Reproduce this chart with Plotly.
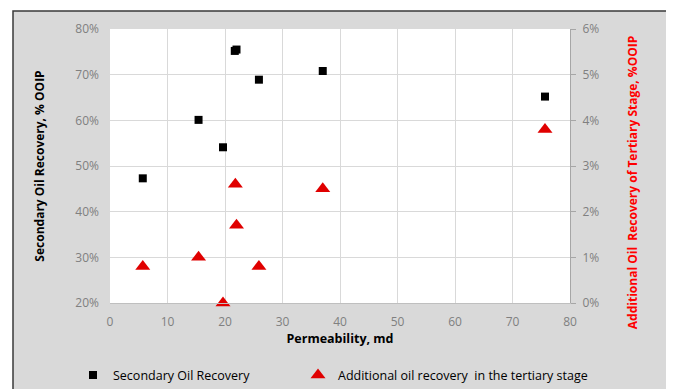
import plotly.graph_objects as go

perm_secondary = [5.7, 15.4, 19.65, 21.7, 22.0, 25.9, 37.0, 75.65]
secondary_recovery = [0.473, 0.601, 0.541, 0.752, 0.755, 0.689, 0.708, 0.652]

perm_tertiary = [5.7, 15.4, 19.65, 21.8, 22.0, 25.9, 37.0, 75.65]
tertiary_recovery = [0.008, 0.010, 0.000, 0.026, 0.017, 0.008, 0.025, 0.038]

FONT = "Open Sans"
TICK = "#808080"

fig = go.Figure()
fig.add_trace(go.Scatter(
    x=perm_secondary, y=secondary_recovery, mode="markers",
    name="Secondary Oil Recovery", legend="legend",
    marker=dict(symbol="square", size=8, color="black"),
    yaxis="y", cliponaxis=False))
fig.add_trace(go.Scatter(
    x=perm_tertiary, y=tertiary_recovery, mode="markers",
    name="Additional oil recovery  in the tertiary stage", legend="legend2",
    marker=dict(symbol="triangle-up", size=13, color="#e00000"),
    yaxis="y2", cliponaxis=False))

# the page body adds an 8px margin, so the figure is sized/positioned for it
W, H = 666, 381
L, R, T = 102, 104, 21
B = 86.3
pw, ph = W - L - R, H - T - B
bottom = H - B

# outer grey chart frame
fig.add_shape(type="rect", xref="paper", yref="paper", layer="below",
              x0=(5 - L) / pw, x1=(663 - L) / pw,
              y0=(bottom - 400) / ph, y1=1 + (T - 3) / ph,
              fillcolor="#d9d9d9", line=dict(color="#3a3a3a", width=1.5))
# white plot area
fig.add_shape(type="rect", xref="paper", yref="paper", layer="below",
              x0=0, x1=1, y0=0, y1=1,
              fillcolor="white", line=dict(width=0))

# right axis title (sits a little below the plot-area centre in the reference)
fig.add_annotation(
    text="<b>Additional Oil  Recovery of Tertiary Stage, %OOIP</b>",
    xref="paper", yref="paper", x=(624 - L) / pw, y=(bottom - 175) / ph,
    xanchor="center", yanchor="middle", textangle=-90, showarrow=False,
    font=dict(size=12, color="#ff0000", family=FONT))

leg_font = dict(size=12.5, color="black", family=FONT)

fig.update_layout(
    width=W, height=H,
    margin=dict(l=L, r=R, t=T, b=B, autoexpand=False),
    paper_bgcolor="white", plot_bgcolor="white",
    font=dict(family=FONT, size=12, color=TICK),
    xaxis=dict(range=[0, 80], dtick=10, showgrid=True, gridcolor="#d9d9d9",
               zeroline=False, showline=True, linecolor="#bfbfbf",
               tickfont=dict(size=12, color=TICK), ticks="",
               ticklabelstandoff=8, automargin=False,
               title=dict(text="<b>Permeability, md</b>",
                          font=dict(size=12.5, color="black", family=FONT),
                          standoff=2)),
    yaxis=dict(range=[0.2, 0.8], dtick=0.1, tickformat=".0%", showgrid=True,
               gridcolor="#d9d9d9", zeroline=False, showline=False, ticks="",
               tickfont=dict(size=12, color=TICK), ticklabelstandoff=10,
               automargin=False,
               title=dict(text="<b>Secondary Oil Recovery, % OOIP</b>",
                          font=dict(size=12, color="black", family=FONT),
                          standoff=28)),
    yaxis2=dict(range=[0, 0.06], dtick=0.01, tickformat=".0%", overlaying="y",
                side="right", showgrid=False, zeroline=False, showline=True,
                linecolor="#a6a6a6", ticks="outside", ticklen=5,
                tickcolor="#a6a6a6", tickfont=dict(size=12, color=TICK),
                ticklabelstandoff=4, automargin=False),
    legend=dict(orientation="h", x=(65 - L) / pw, xanchor="left",
                y=(bottom - 367) / ph, yanchor="middle",
                bgcolor="rgba(0,0,0,0)", font=leg_font, itemwidth=30),
    legend2=dict(orientation="h", x=(290 - L) / pw, xanchor="left",
                 y=(bottom - 367) / ph, yanchor="middle",
                 bgcolor="rgba(0,0,0,0)", font=leg_font, itemwidth=30),
    showlegend=True,
)

fig.write_html("out.html")
